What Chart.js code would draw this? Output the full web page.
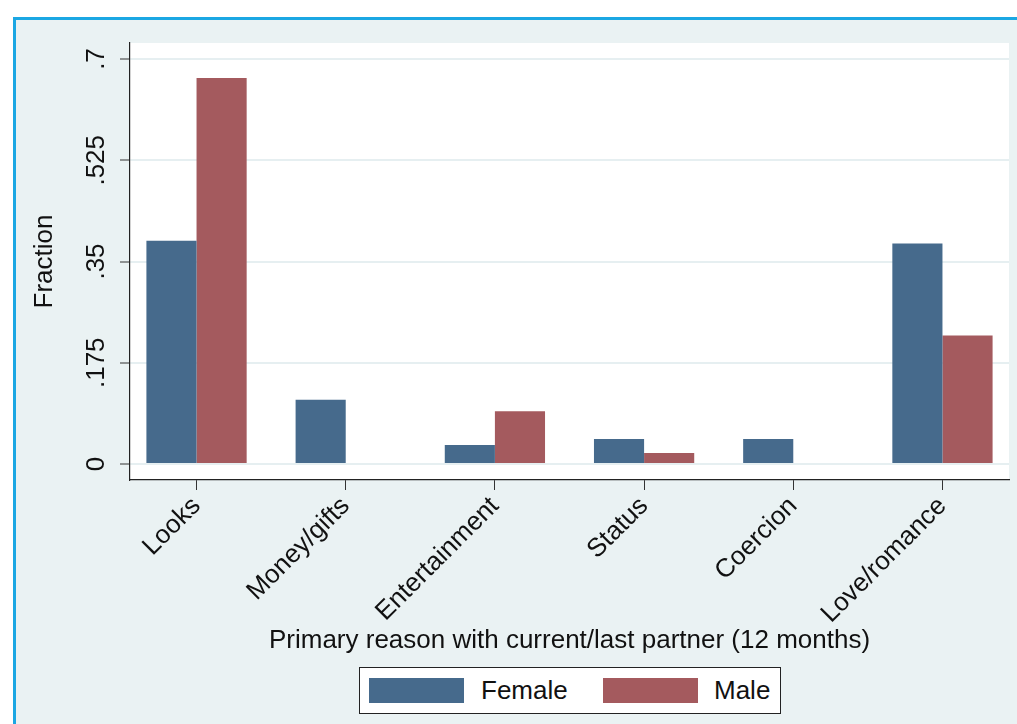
<!DOCTYPE html>
<html>
<head>
<meta charset="utf-8">
<script src="https://cdn.jsdelivr.net/npm/chart.js@4/dist/chart.umd.min.js"></script>
<style>
  html, body { margin: 0; padding: 0; background: #fff; overflow: hidden; }
  #wrap { position: relative; width: 1017px; height: 724px; }
  #frame { position: absolute; left: 13px; top: 17px; width: 1100px; height: 800px;
           border-left: 3px solid #1ba7e3; border-top: 3px solid #1ba7e3; background: #eaf2f3; }
  #grafico { position: absolute; left: 0; top: 0; }
  #leyenda { position: absolute; left: 359px; top: 667px; width: 420px; height: 45px;
             background: #fff; border: 1px solid #222; font-family: 'Liberation Sans', Arial, sans-serif;
             font-size: 26px; color: #111; }
  #leyenda .sw { position: absolute; top: 10px; width: 95px; height: 25px; }
  #leyenda .tx { position: absolute; top: 7px; line-height: 30px; }
</style>
</head>
<body>
<div id="wrap">
  <div id="frame"></div>
  <canvas id="grafico" width="1017" height="724"></canvas>
  <div id="leyenda"></div>
</div>
<script>
// --- datos ---
const categorias = ['Looks', 'Money/gifts', 'Entertainment', 'Status', 'Coercion', 'Love/romance'];
const female = [0.386, 0.111, 0.033, 0.043, 0.043, 0.381];
const male = [0.667, 0, 0.091, 0.019, 0, 0.222];
const ticksY = [0, 0.175, 0.35, 0.525, 0.7];
const etiquetasY = ['0', '.175', '.35', '.525', '.7'];

const colores = ['#466a8c', '#a45a5e'];
const fuente = "'Liberation Sans', Arial, sans-serif";

// fondo blanco del area del grafico
const fondoArea = {
  id: 'fondoArea',
  beforeDraw(chart) {
    const a = chart.chartArea;
    const ctx = chart.ctx;
    ctx.save();
    ctx.fillStyle = '#ffffff';
    ctx.fillRect(a.left, a.top, a.right - a.left, a.bottom - a.top);
    ctx.restore();
  }
};

const chart = new Chart(document.getElementById('grafico'), {
  type: 'bar',
  data: {
    datasets: [
      { label: 'Female', data: female.map((v, i) => ({ x: i, y: v })), backgroundColor: colores[0] },
      { label: 'Male', data: male.map((v, i) => ({ x: i, y: v })), backgroundColor: colores[1] }
    ]
  },
  options: {
    responsive: false,
    animation: false,
    layout: { padding: { left: 0, top: 43, right: 8, bottom: 57 } },
    datasets: { bar: { categoryPercentage: 0.672, barPercentage: 1, borderWidth: 0 } },
    plugins: {
      legend: { display: false },
      tooltip: { enabled: false }
    },
    scales: {
      x: {
        type: 'linear',
        offset: false,
        min: -0.446,
        max: 5.446,
        afterBuildTicks: s => { s.ticks = categorias.map((c, i) => ({ value: i })); },
        afterFit: s => { s.height = 187; },
        ticks: {
          autoSkip: false,
          minRotation: 45,
          maxRotation: 45,
          padding: 1,
          color: '#111',
          font: { family: fuente, size: 26 },
          callback: v => categorias[v]
        },
        grid: { offset: false, drawOnChartArea: false, drawTicks: true, tickLength: 10, tickColor: '#333', tickWidth: 1 },
        border: { display: true, color: '#222', width: 1.2 },
        title: {
          display: true,
          text: 'Primary reason with current/last partner (12 months)',
          color: '#111',
          font: { family: fuente, size: 26 },
          padding: { top: 0, bottom: 11 }
        }
      },
      y: {
        min: -0.0277,
        max: 0.7277,
        afterBuildTicks: s => { s.ticks = ticksY.map(v => ({ value: v })); },
        afterFit: s => { s.width = 130; },
        ticks: {
          minRotation: 90,
          maxRotation: 90,
          crossAlign: 'center',
          padding: -2,
          color: '#111',
          font: { family: fuente, size: 26 },
          callback: v => etiquetasY[ticksY.indexOf(v)]
        },
        grid: { color: '#e6eff1', lineWidth: 2, drawTicks: true, tickLength: 10, tickColor: '#333', tickWidth: 1 },
        border: { display: true, color: '#222', width: 1.2 },
        title: {
          display: true,
          text: 'Fraction',
          color: '#111',
          font: { family: fuente, size: 26 },
          padding: { top: 29, bottom: 0 }
        }
      }
    }
  },
  plugins: [fondoArea]
});

// leyenda en HTML a partir de los datasets
const leyenda = document.getElementById('leyenda');
const posSw = [9, 243];
const posTx = [121, 354];
chart.data.datasets.forEach((ds, i) => {
  const sw = document.createElement('div');
  sw.className = 'sw';
  sw.style.left = posSw[i] + 'px';
  sw.style.background = ds.backgroundColor;
  const tx = document.createElement('div');
  tx.className = 'tx';
  tx.style.left = posTx[i] + 'px';
  tx.textContent = ds.label;
  leyenda.appendChild(sw);
  leyenda.appendChild(tx);
});
</script>
</body>
</html>
